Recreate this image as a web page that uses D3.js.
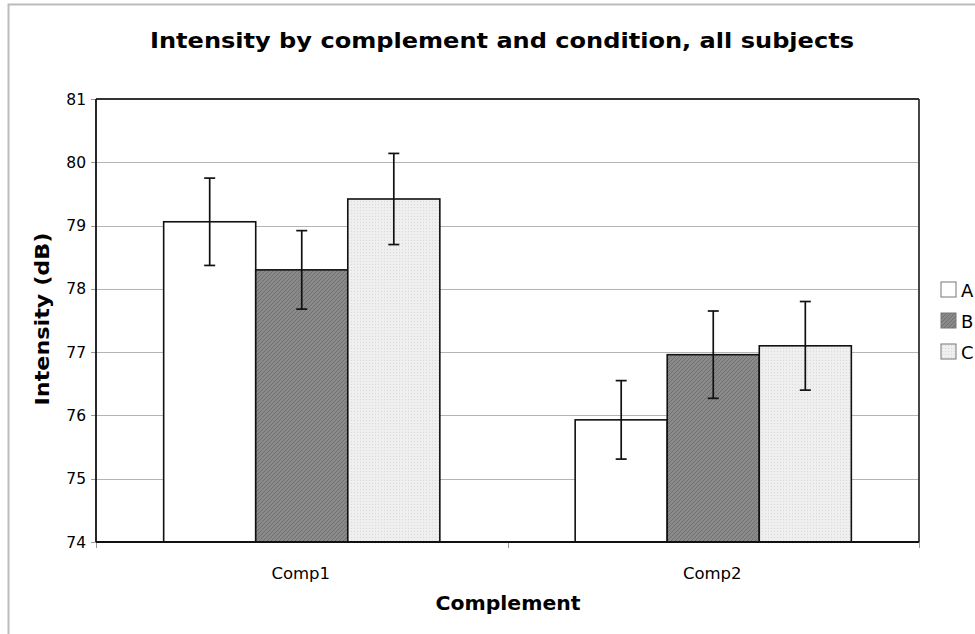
<!DOCTYPE html>
<html><head><meta charset="utf-8">
<script src="https://cdn.jsdelivr.net/npm/d3@7"></script>
<style>body{margin:0;background:#fff;}svg{display:block;}</style>
</head><body>
<svg id="c" width="975" height="634"></svg>
<script>
const categories = ["Comp1", "Comp2"];
const conditions = ["A", "B", "C"];
const valuesA = [79.06, 75.93];
const valuesB = [78.30, 76.96];
const valuesC = [79.42, 77.10];
const errA = [0.69, 0.62];
const errB = [0.62, 0.69];
const errC = [0.72, 0.70];
const yTicks = [74, 75, 76, 77, 78, 79, 80, 81];

const series = [
  {key: "A", values: valuesA, err: errA},
  {key: "B", values: valuesB, err: errB},
  {key: "C", values: valuesC, err: errC}
];

const svg = d3.select("#c");
const defs = svg.append("defs");
const pB = defs.append("pattern").attr("id", "patB").attr("patternUnits", "userSpaceOnUse")
  .attr("width", 4).attr("height", 4);
pB.append("rect").attr("width", 4).attr("height", 4).attr("fill", "#8a8a8a");
pB.append("path").attr("d", "M-1,1 L1,-1 M0,4 L4,0 M3,5 L5,3").attr("stroke", "#707070").attr("stroke-width", 1);
const pC = defs.append("pattern").attr("id", "patC").attr("patternUnits", "userSpaceOnUse")
  .attr("width", 3).attr("height", 3);
pC.append("rect").attr("width", 3).attr("height", 3).attr("fill", "#efefef");
pC.append("rect").attr("width", 1).attr("height", 1).attr("fill", "#dadada");

const fill = {A: "#ffffff", B: "url(#patB)", C: "url(#patC)"};
const font = "DejaVu Sans, Verdana, sans-serif";

// outer border
svg.append("path").attr("d", "M8.5,640 L8.5,4.5 L980,4.5").attr("fill", "none")
  .attr("stroke", "#bbbbbb").attr("stroke-width", 2);

const m = {left: 96, right: 919, top: 99, bottom: 542};

const x0 = d3.scaleBand().domain(categories).range([m.left, m.right]).paddingInner(0).paddingOuter(0);
const x1 = d3.scaleBand().domain(conditions).range([0, x0.bandwidth()]).paddingInner(0).paddingOuter(0.735);
const y = d3.scaleLinear().domain([74, 81]).range([m.bottom, m.top]);

// gridlines
svg.append("g").selectAll("line").data(yTicks.filter(d => d > 74 && d < 81)).join("line")
  .attr("x1", m.left).attr("x2", m.right)
  .attr("y1", d => Math.round(y(d)) + 0.5).attr("y2", d => Math.round(y(d)) + 0.5)
  .attr("stroke", "#b4b4b4").attr("stroke-width", 1);

// y ticks
svg.append("g").selectAll("line").data(yTicks).join("line")
  .attr("x1", m.left - 5).attr("x2", m.left)
  .attr("y1", d => Math.round(y(d)) + 0.5).attr("y2", d => Math.round(y(d)) + 0.5)
  .attr("stroke", "#999").attr("stroke-width", 1);
svg.append("g").selectAll("text").data(yTicks).join("text")
  .attr("x", m.left - 10).attr("y", d => y(d) + 5.5)
  .attr("text-anchor", "end").attr("font-family", font)
  .attr("font-size", 15.5).attr("fill", "#000").text(d => d);

// x ticks at band boundaries
const xb = [m.left, x0("Comp2"), m.right];
svg.append("g").selectAll("line").data(xb).join("line")
  .attr("x1", d => Math.round(d) + 0.5).attr("x2", d => Math.round(d) + 0.5)
  .attr("y1", m.bottom).attr("y2", m.bottom + 6)
  .attr("stroke", "#999").attr("stroke-width", 1);

// bars
const g = svg.append("g");
series.forEach(s => {
  g.selectAll(null).data(categories).join("rect")
    .attr("x", c => x0(c) + x1(s.key))
    .attr("width", x1.bandwidth())
    .attr("y", (c, i) => y(s.values[i]))
    .attr("height", (c, i) => y(74) - y(s.values[i]))
    .attr("fill", fill[s.key]).attr("stroke", "#111").attr("stroke-width", 1.6);
});
// error bars
series.forEach(s => {
  categories.forEach((c, i) => {
    const cx = x0(c) + x1(s.key) + x1.bandwidth() / 2;
    const yt = y(s.values[i] + s.err[i]), yb = y(s.values[i] - s.err[i]);
    g.append("line").attr("x1", cx).attr("x2", cx).attr("y1", yt).attr("y2", yb)
      .attr("stroke", "#111").attr("stroke-width", 1.7);
    [yt, yb].forEach(yy => g.append("line").attr("x1", cx - 5.5).attr("x2", cx + 5.5)
      .attr("y1", yy).attr("y2", yy).attr("stroke", "#111").attr("stroke-width", 1.7));
  });
});

// plot frame
svg.append("line").attr("x1", m.left).attr("x2", m.right).attr("y1", m.top).attr("y2", m.top)
  .attr("stroke", "#333").attr("stroke-width", 1.8);
svg.append("line").attr("x1", m.right).attr("x2", m.right).attr("y1", m.top).attr("y2", m.bottom)
  .attr("stroke", "#333").attr("stroke-width", 1.8);
svg.append("line").attr("x1", m.left).attr("x2", m.left).attr("y1", m.top).attr("y2", m.bottom)
  .attr("stroke", "#111").attr("stroke-width", 1.8);
svg.append("line").attr("x1", m.left).attr("x2", m.right).attr("y1", m.bottom).attr("y2", m.bottom)
  .attr("stroke", "#111").attr("stroke-width", 1.8);

// category labels
svg.append("g").selectAll("text").data(categories).join("text")
  .attr("x", c => x0(c) + x0.bandwidth() / 2 - 1).attr("y", 579)
  .attr("text-anchor", "middle").attr("font-family", font)
  .attr("font-size", 16.5).text(c => c);

// titles
svg.append("text").attr("x", 502).attr("y", 48).attr("text-anchor", "middle")
  .attr("font-family", font).attr("font-weight", "bold")
  .attr("font-size", 22).attr("textLength", 704).attr("lengthAdjust", "spacingAndGlyphs")
  .text("Intensity by complement and condition, all subjects");
svg.append("text").attr("x", 508).attr("y", 610).attr("text-anchor", "middle")
  .attr("font-family", font).attr("font-weight", "bold")
  .attr("font-size", 20).attr("textLength", 145).attr("lengthAdjust", "spacingAndGlyphs")
  .text("Complement");
svg.append("text").attr("transform", "translate(49,319) rotate(-90)").attr("text-anchor", "middle")
  .attr("font-family", font).attr("font-weight", "bold")
  .attr("font-size", 20).attr("textLength", 173).attr("lengthAdjust", "spacingAndGlyphs")
  .text("Intensity (dB)");

// legend
const lg = svg.append("g");
conditions.forEach((k, i) => {
  const ly = 282 + i * 31;
  lg.append("rect").attr("x", 941).attr("y", ly).attr("width", 15).attr("height", 15)
    .attr("fill", fill[k]).attr("stroke", "#777").attr("stroke-width", 1);
  lg.append("text").attr("x", 961).attr("y", ly + 15).attr("font-family", font)
    .attr("font-size", 18).text(k);
});
</script>
</body></html>
